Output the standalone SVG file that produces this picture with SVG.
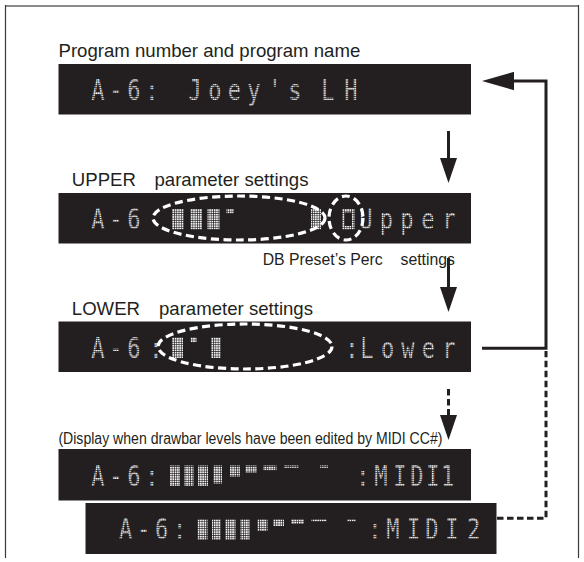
<svg xmlns="http://www.w3.org/2000/svg" width="584" height="562" viewBox="0 0 584 562">
<style>
.lbl{font-family:"Liberation Sans",Arial,sans-serif;fill:#231f20;font-size:18.6px}
.sm{font-size:15.8px}
.lcd{fill:#231f20}
.dm{font-family:"DejaVu Sans Mono","Liberation Mono",monospace;font-size:27.5px;fill:url(#tdots);text-anchor:middle}
.bar{fill:url(#dots)}
.ring{fill:none;stroke:#ffffff;stroke-width:3.2;stroke-dasharray:8 4.5}
.ln{fill:none;stroke:#231f20;stroke-width:3}
.dash{stroke-dasharray:6.5 3.5}
</style>
<defs>
<pattern id="dots" width="2.3" height="2.3" patternUnits="userSpaceOnUse"><rect width="1.7" height="1.7" fill="#f2f2f2"/></pattern>
<pattern id="tdots" width="2.4" height="2.2" patternUnits="userSpaceOnUse"><rect width="1.9" height="1.6" fill="#f4f4f4"/></pattern>
<marker id="ah" markerUnits="userSpaceOnUse" viewBox="0 0 25 17" markerWidth="25" markerHeight="17" refX="0" refY="8.5" orient="auto"><path d="M0,0 L25,8.5 L0,17 Z" fill="#231f20"/></marker>
<marker id="ahl" markerUnits="userSpaceOnUse" viewBox="0 0 32 18.4" markerWidth="32" markerHeight="18.4" refX="0" refY="9.2" orient="auto"><path d="M0,0 L32,9.2 L0,18.4 Z" fill="#231f20"/></marker>
</defs>
<rect width="584" height="562" fill="#ffffff"/>
<g id="frame">
<line x1="5" y1="6" x2="579" y2="6" stroke="#8c8c8c" stroke-width="2"/>
<line x1="5.5" y1="5" x2="5.5" y2="558" stroke="#3a3a3a" stroke-width="1.2"/>
<line x1="578.5" y1="5" x2="578.5" y2="558" stroke="#3a3a3a" stroke-width="1.2"/>
</g>
<g id="display1">
<text class="lbl" x="58.5" y="57">Program number and program name</text>
<rect class="lcd" x="58.5" y="64" width="412.5" height="50.5"/>
<text class="dm" transform="scale(0.8,1)" y="100.4" x="122.5 145 167.5 190 216 243.75 268.75 293.1 317.5 343.75 368.75 390 410 438.75">A-6: Joey's LH</text>
</g>
<g id="display2">
<text class="lbl" y="185.7"><tspan x="71.8">UPPER</tspan><tspan x="154.5">parameter settings</tspan></text>
<rect class="lcd" x="58.5" y="193" width="412.5" height="50.5"/>
<text class="dm" transform="scale(0.8,1)" y="229.5" x="122.5 145 167.5">A-6</text>
<rect class="bar" x="172" y="209" width="12" height="20.5"/>
<rect class="bar" x="190" y="209" width="12" height="20.5"/>
<rect class="bar" x="207.5" y="209" width="12" height="20.5"/>
<rect class="bar" x="226.5" y="209" width="7" height="4.6"/>
<rect class="bar" x="311" y="209" width="10" height="20.5"/>
<rect class="bar" x="342" y="209" width="12.5" height="20.5"/>
<rect class="lcd" x="344.6" y="212.4" width="7.3" height="13.6"/>
<text class="dm" transform="scale(0.8,1)" y="229.5" x="457.5 483.1 508.75 535 561.25">Upper</text>
<ellipse class="ring" cx="239" cy="218" rx="86" ry="22"/>
<ellipse class="ring" cx="346" cy="218" rx="17" ry="22"/>
<text class="lbl sm" y="264.5"><tspan x="262.7">DB Preset’s Perc</tspan><tspan x="400.5">settings</tspan></text>
</g>
<g id="display3">
<text class="lbl" y="314.7"><tspan x="71.8">LOWER</tspan><tspan x="159">parameter settings</tspan></text>
<rect class="lcd" x="58.5" y="321.5" width="412.5" height="50.5"/>
<text class="dm" transform="scale(0.8,1)" y="358" x="122.5 145 167.5 195">A-6:</text>
<rect class="bar" x="172" y="337.5" width="11" height="20.5"/>
<rect class="bar" x="190.5" y="337.5" width="6" height="4.6"/>
<rect class="bar" x="211" y="337.5" width="10" height="20.5"/>
<text class="dm" transform="scale(0.8,1)" y="358" x="440 458.75 484.4 510 535.6 561.25">:Lower</text>
<ellipse class="ring" cx="245" cy="346.5" rx="87" ry="22.5"/>
</g>
<g id="display4">
<text class="lbl sm" x="58.4" y="444" textLength="384" lengthAdjust="spacingAndGlyphs">(Display when drawbar levels have been edited by MIDI CC#)</text>
<rect class="lcd" x="58.5" y="449" width="412.5" height="51.5"/>
<text class="dm" transform="scale(0.8,1)" y="486" x="122.5 145 167.5 190">A-6:</text>
<rect class="bar" x="170" y="465.5" width="10" height="20.5"/>
<rect class="bar" x="184.5" y="465.5" width="9" height="20.5"/>
<rect class="bar" x="198" y="465.5" width="10" height="20.5"/>
<rect class="bar" x="213" y="465.5" width="9" height="18"/>
<rect class="bar" x="230" y="465.5" width="10" height="11"/>
<rect class="bar" x="245.5" y="465.5" width="11" height="7"/>
<rect class="bar" x="263.5" y="465.5" width="13" height="4.6"/>
<rect class="bar" x="284" y="465.5" width="15" height="2.3"/>
<rect class="bar" x="320" y="465.5" width="8" height="2.3"/>
<text class="dm" transform="scale(0.8,1)" y="486" x="453.75 476.25 500 521.25 541.25 559.4">:MIDI1</text>
</g>
<g id="display5">
<rect class="lcd" x="85.5" y="503" width="411" height="51"/>
<text class="dm" transform="scale(0.8,1)" y="539.5" x="156.9 179.4 201.9 224.4">A-6:</text>
<rect class="bar" x="197.5" y="519" width="10" height="20.5"/>
<rect class="bar" x="212" y="519" width="9" height="20.5"/>
<rect class="bar" x="225.5" y="519" width="10" height="20.5"/>
<rect class="bar" x="240.5" y="519" width="9" height="20.5"/>
<rect class="bar" x="257.5" y="519" width="10" height="12"/>
<rect class="bar" x="273" y="519" width="11" height="7"/>
<rect class="bar" x="291" y="519" width="13" height="4.6"/>
<rect class="bar" x="311.5" y="519" width="15" height="2.3"/>
<rect class="bar" x="347.5" y="519" width="8" height="2.3"/>
<text class="dm" transform="scale(0.8,1)" y="539.5" x="468.75 491.25 516.9 540 565 591.9">:MIDI2</text>
</g>
<g id="connectors">
<path class="ln" d="M448.5,131 V158" marker-end="url(#ah)"/>
<path class="ln" d="M448.5,258 V287" marker-end="url(#ah)"/>
<path class="ln dash" d="M448.5,389 V415" marker-end="url(#ah)"/>
<path class="ln" d="M482,348.3 H546 V81 H514" marker-end="url(#ahl)"/>
<path class="ln dash" d="M497,518.3 H546 V351"/>
</g>
</svg>
